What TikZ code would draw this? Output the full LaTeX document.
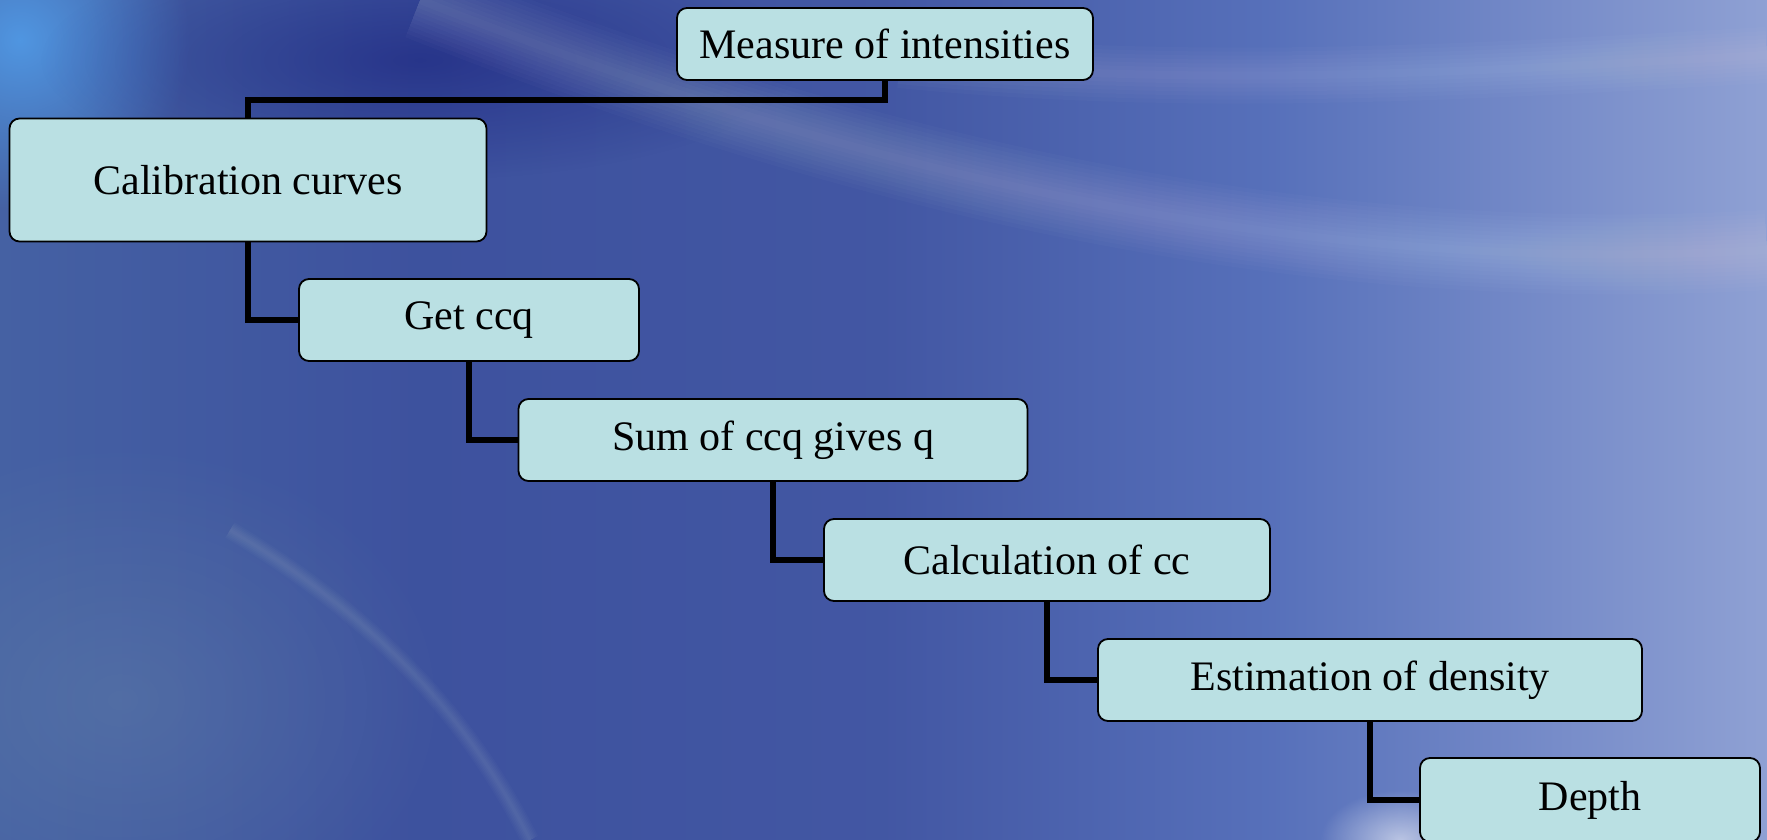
\documentclass[tikz,border=0pt]{standalone}
\usepackage{fontspec}
\setmainfont{Liberation Serif}
\usetikzlibrary{positioning,fadings}

\definecolor{boxfill}{RGB}{186,224,227}
\definecolor{glow}{RGB}{80,150,225}
\pgfdeclarehorizontalshading{bgshade}{100bp}{rgb(0bp)=(0.27,0.38,0.64); rgb(25bp)=(0.27,0.38,0.64); rgb(37bp)=(0.24,0.32,0.62); rgb(50bp)=(0.26,0.34,0.64); rgb(61bp)=(0.34,0.44,0.73); rgb(75bp)=(0.56,0.63,0.83); rgb(100bp)=(0.56,0.63,0.83)}
\tikzfading[name=softglow,inner color=transparent!0,outer color=transparent!100]

\begin{document}
\begin{tikzpicture}[x=1pt,y=-1pt,
  box/.style={draw,fill=boxfill,rounded corners=10pt,line width=1.8pt,inner sep=0pt,
    minimum height=82pt,font=\fontsize{42}{50}\selectfont},
  link/.style={line width=5.5pt}]
\useasboundingbox (0,0) rectangle (1767,840);
% background
\shade[shading=bgshade] (0,0) rectangle (1767,840);
\fill[glow,path fading=softglow] (20,40) circle (170);
\fill[blue!40!black,opacity=0.35,path fading=softglow] (420,60) ellipse (380 and 120);
\fill[cyan!30!gray,opacity=0.25,path fading=softglow] (120,700) ellipse (330 and 260);
\foreach \w in {8,16,...,80}
  \draw[white,opacity=0.018,line width=\w pt] (420,0) .. controls (800,150) and (1250,280) .. (1767,250);
\foreach \w in {8,16,...,56}
  \draw[white,opacity=0.018,line width=\w pt] (900,60) .. controls (1200,90) and (1500,70) .. (1767,55);
\foreach \w in {3,6,...,18}
  \draw[white,opacity=0.02,line width=\w pt] (230,530) .. controls (380,620) and (470,720) .. (530,840);
\fill[white,opacity=0.55,path fading=softglow] (1400,840) ellipse (80 and 50);

\node[box,minimum width=416pt,minimum height=72pt] (measure) at (885,44) {Measure of intensities};
\node[box,minimum width=477pt,minimum height=123pt] (calib) at (248,180) {Calibration curves};
\node[box,minimum width=340pt] (getccq) at (469,320) {Get ccq};
\node[box,minimum width=509pt] (sumccq) at (773,440) {Sum of ccq gives q};
\node[box,minimum width=446pt] (calccc) at (1047,560) {Calculation of cc};
\node[box,minimum width=544pt] (density) at (1370,680) {Estimation of density};
\node[box,minimum width=340pt,minimum height=84pt] (depth) at (1590,800) {Depth};

\draw[link] (measure.south) -- ++(0,19) -| (calib.north);
\draw[link] (calib.south) |- (getccq.west);
\draw[link] (getccq.south) |- (sumccq.west);
\draw[link] (sumccq.south) |- (calccc.west);
\draw[link] (calccc.south) |- (density.west);
\draw[link] (density.south) |- (depth.west);
\end{tikzpicture}
\end{document}
